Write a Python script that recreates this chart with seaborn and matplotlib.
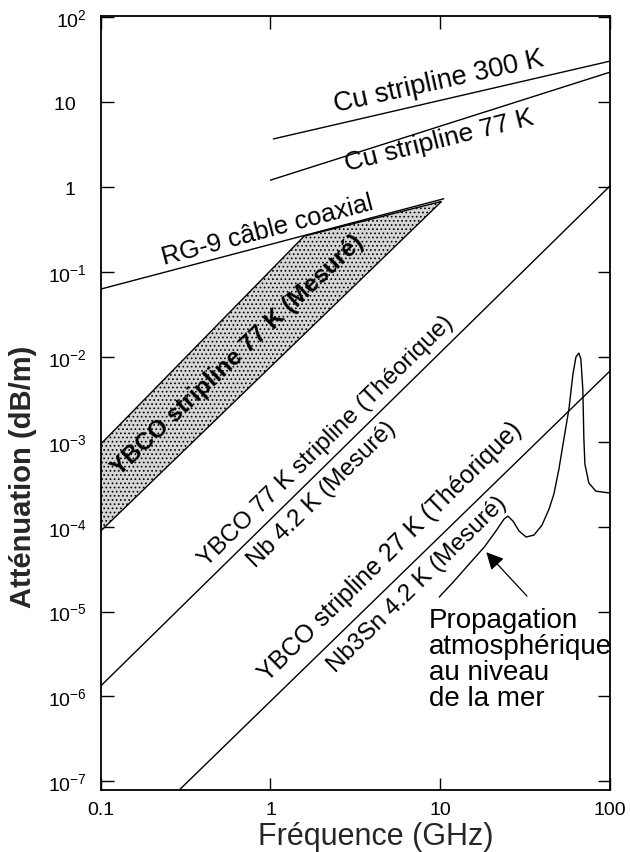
import matplotlib
matplotlib.use("Agg")
import matplotlib.pyplot as plt
import seaborn as sns
from matplotlib.ticker import NullLocator

# values (GHz, dB/m)
cu300_freq = [1.04, 100]
cu300_att = [3.7, 30.5]

cu77_freq = [1.0, 100]
cu77_att = [1.21, 22.6]

rg9_freq = [0.1, 10.5]
rg9_att = [0.063, 0.73]

# measured YBCO 77 K stripline band (polygon outline)
band_freq = [0.1, 1.58, 10.2, 0.1]
band_att = [9.4e-4, 0.265, 0.68, 8.9e-5]

ybco77_freq = [0.1, 100]
ybco77_att = [1.33e-6, 1.03]

ybco27_freq = [0.29, 100]
ybco27_att = [7.9e-8, 6.8e-3]

atm_freq = [9.87, 12.1, 14.8, 18.2, 21.3, 23.8, 25.1, 26.9, 29.2, 32.1, 35.7, 39.8,
            43.8, 46.8, 50.1, 53.6, 57.4, 60.6, 63.1, 65.7, 67.5, 69.3, 70.3, 71.3,
            75.2, 82.7, 100]
atm_att = [1.48e-5, 2.29e-5, 3.62e-5, 5.75e-5, 8.87e-5, 1.23e-4, 1.33e-4, 1.16e-4,
           8.87e-5, 7.55e-5, 7.96e-5, 1.04e-4, 1.61e-4, 2.42e-4, 4.77e-4, 1.08e-3,
           2.43e-3, 6.27e-3, 9.95e-3, 1.11e-2, 9.42e-3, 4.18e-3, 1.08e-3, 5.46e-4,
           3.27e-4, 2.62e-4, 2.49e-4]

x_ticks = [0.1, 1, 10, 100]
x_ticklabels = ["0.1", "1", "10", "100"]
y_ticks = [1e-7, 1e-6, 1e-5, 1e-4, 1e-3, 1e-2, 1e-1, 1, 10, 100]
# trailing spaces keep the plain numbers where the original puts them
y_ticklabels = ["10$^{-7}$", "10$^{-6}$", "10$^{-5}$", "10$^{-4}$", "10$^{-3}$",
                "10$^{-2}$", "10$^{-1}$", "1  ", "10  ", "10$^{2}$"]

sns.set_theme(style="ticks")
plt.rcParams["font.family"] = ["Liberation Sans", "DejaVu Sans"]
plt.rcParams["mathtext.fontset"] = "custom"
plt.rcParams["mathtext.rm"] = "Liberation Sans"
plt.rcParams["mathtext.default"] = "regular"
plt.rcParams["hatch.linewidth"] = 0.7

fig = plt.figure(figsize=(6.3, 8.53), dpi=100)
ax = fig.add_axes([0.160, 0.0727, 0.808, 0.907])
ax.set_xscale("log")
ax.set_yscale("log")

line_kw = dict(color="black", lw=1.0, estimator=None, sort=False, ax=ax)
sns.lineplot(x=cu300_freq, y=cu300_att, **line_kw)
sns.lineplot(x=cu77_freq, y=cu77_att, **line_kw)
sns.lineplot(x=rg9_freq, y=rg9_att, **line_kw)
sns.lineplot(x=ybco77_freq, y=ybco77_att, **line_kw)
sns.lineplot(x=ybco27_freq, y=ybco27_att, **line_kw)
sns.lineplot(x=atm_freq, y=atm_att, **line_kw)

ax.fill(band_freq, band_att, facecolor="#d6d6d6", edgecolor="black",
        hatch="....", lw=1.0)

ax.set_xlim(0.1, 100)
ax.set_ylim(7.9e-8, 103)
ax.set_xticks(x_ticks)
ax.set_xticklabels(x_ticklabels)
ax.set_yticks(y_ticks)
ax.set_yticklabels(y_ticklabels)
ax.xaxis.set_minor_locator(NullLocator())
ax.yaxis.set_minor_locator(NullLocator())
ax.tick_params(which="both", direction="in", length=9, width=1.0,
               top=True, right=True, labelsize=14, colors="black")
ax.tick_params(axis="x", pad=8)
ax.tick_params(axis="y", pad=10)
for s in ax.spines.values():
    s.set_linewidth(1.3)
    s.set_color("black")

ax.set_xlabel("Fréquence (GHz)", fontsize=22)
ax.set_ylabel("Atténuation (dB/m)", fontsize=21, fontweight="bold")
ax.xaxis.set_label_coords(0.54, -0.040)
ax.yaxis.set_label_coords(-0.125, 0.406)

lab = dict(ha="center", va="center", color="black")
ax.text(9.87, 17.7, "Cu stripline 300 K", rotation=12.5, fontsize=19.5, **lab)
ax.text(9.87, 3.6, "Cu stripline 77 K", rotation=14.0, fontsize=19, **lab)
ax.text(0.96, 0.32, "RG-9 câble coaxial", rotation=14.8, fontsize=18.5, **lab)
ax.text(0.64, 1.08e-2, "YBCO stripline 77 K (Mesuré)", rotation=43.5,
        fontsize=17.5, fontweight="bold", **lab)
ax.text(2.13, 1.05e-3, "YBCO 77 K stripline (Théorique)", rotation=44.5,
        fontsize=17.5, **lab)
ax.text(2.02, 2.42e-4, "Nb 4.2 K (Mesuré)", rotation=44.5, fontsize=17.5, **lab)
ax.text(5.08, 5.16e-5, "YBCO stripline 27 K (Théorique)", rotation=44.5,
        fontsize=18, **lab)
ax.text(7.33, 2.11e-5, "Nb3Sn 4.2 K (Mesuré)", rotation=44.5, fontsize=17.5, **lab)

ax.text(8.61, 1.13e-5, "Propagation\natmosphérique\nau niveau\nde la mer",
        fontsize=20, ha="left", va="top", linespacing=1.0, color="black")
ax.annotate("", xy=(18.7, 5.0e-5), xytext=(32.5, 1.52e-5),
            arrowprops=dict(arrowstyle="-|>", mutation_scale=26, color="black",
                            lw=0.9, shrinkA=0, shrinkB=0))

fig.savefig("out.png", dpi=100)
